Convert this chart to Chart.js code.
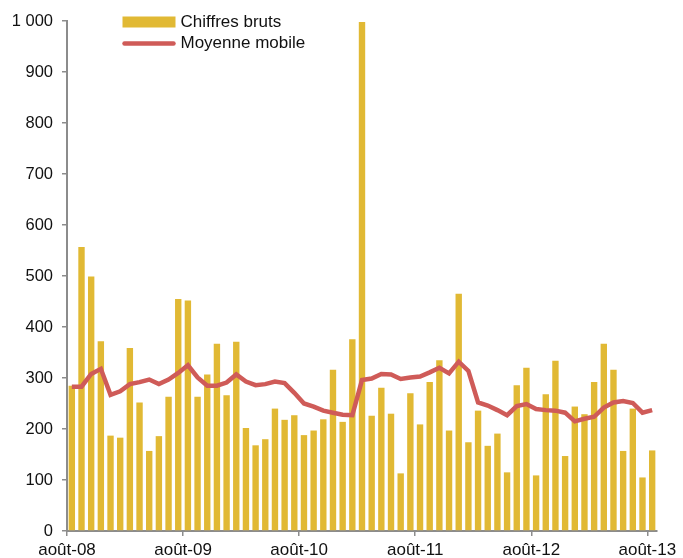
<!DOCTYPE html>
<html>
<head>
<meta charset="utf-8">
<script src="https://cdn.jsdelivr.net/npm/chart.js@4"></script>
<style>
  html, body { margin: 0; padding: 0; background: #fff; }
  #wrap { width: 683px; height: 558px; position: relative; }
</style>
</head>
<body>
<div id="wrap"><canvas id="chart"></canvas></div>
<script>
// Chiffres mensuels, août 2008 -> août 2013 (61 mois)
const chiffresBruts = [
  285, 557, 499, 372, 187, 183, 359, 252, 157, 186, 263, 455,
  452, 263, 307, 367, 266, 371, 202, 168, 180, 240, 218, 227,
  188, 197, 219, 316, 214, 376, 998, 226, 281, 230, 113, 270,
  209, 292, 335, 197, 465, 174, 236, 167, 191, 115, 286, 320,
  109, 268, 334, 147, 244, 229, 292, 367, 316, 157, 240, 105,
  158
];

const moyenneMobile = [
  283, 283, 308, 318, 267, 274, 288, 292, 297, 288, 297, 310,
  325, 301, 285, 285, 291, 307, 293, 286, 288, 293, 290, 271,
  250, 244, 236, 232, 228, 227, 296, 299, 308, 307, 298, 301,
  303, 311, 320, 309, 332, 314, 252, 246, 237, 227, 245, 249,
  239, 237, 236, 232, 215, 220, 224, 242, 252, 255, 251, 232,
  237
];

// Etiquettes de l'axe X (une par an, placées au début du mois)
const xTickLabels = ['août-08', 'août-09', 'août-10', 'août-11', 'août-12', 'août-13'];
const xTickPositions = [0, 12, 24, 36, 48, 60];

const COLORS = {
  bar: '#e1b934',
  line: '#cf5b58',
  axis: '#8c8c8c',
  text: '#111111'
};
const FONT = 'Liberation Sans, Arial, sans-serif';

// Légende dessinée dans la zone du graphique (en haut à gauche)
const insideLegend = {
  id: 'insideLegend',
  afterDraw(chart) {
    const ctx = chart.ctx;
    const x0 = 122.5, w = 53;
    ctx.save();
    ctx.font = '17px ' + FONT;
    ctx.textBaseline = 'middle';

    ctx.fillStyle = COLORS.bar;
    ctx.fillRect(x0, 16.5, w, 11);
    ctx.fillStyle = COLORS.text;
    ctx.fillText(chart.data.datasets[0].label, x0 + w + 5, 22);

    ctx.strokeStyle = COLORS.line;
    ctx.lineWidth = 4.5;
    ctx.lineCap = 'round';
    ctx.beginPath();
    ctx.moveTo(x0 + 2, 43.5);
    ctx.lineTo(x0 + w - 2, 43.5);
    ctx.stroke();
    ctx.fillText(chart.data.datasets[1].label, x0 + w + 5, 43.5);
    ctx.restore();
  }
};

const ctx = document.getElementById('chart').getContext('2d');
new Chart(ctx, {
  data: {
    datasets: [
      {
        type: 'bar',
        label: 'Chiffres bruts',
        data: chiffresBruts.map((v, i) => ({ x: i + 0.5, y: v })),
        backgroundColor: COLORS.bar,
        barPercentage: 0.66,
        categoryPercentage: 1,
        order: 2
      },
      {
        type: 'line',
        label: 'Moyenne mobile',
        data: moyenneMobile.map((v, i) => ({ x: i + 0.5, y: v })),
        borderColor: COLORS.line,
        borderWidth: 4.5,
        pointRadius: 0,
        tension: 0,
        fill: false,
        order: 1
      }
    ]
  },
  options: {
    responsive: true,
    maintainAspectRatio: false,
    animation: false,
    layout: { padding: { top: 21, right: 26, left: 0, bottom: 0 } },
    scales: {
      x: {
        type: 'linear',
        min: 0,
        max: 61,
        offset: false,
        afterBuildTicks: (scale) => {
          scale.ticks = xTickPositions.map(v => ({ value: v }));
        },
        afterFit: (scale) => { scale.height = 27; },
        border: { color: COLORS.axis, width: 2 },
        grid: { offset: false, drawOnChartArea: false, drawTicks: true, tickLength: 5, color: COLORS.axis, lineWidth: 1.5 },
        ticks: {
          color: COLORS.text,
          font: { family: FONT, size: 17 },
          padding: 4,
          maxRotation: 0,
          autoSkip: false,
          callback: (value) => xTickLabels[xTickPositions.indexOf(value)]
        }
      },
      y: {
        min: 0,
        max: 1000,
        afterFit: (scale) => { scale.width = 67; },
        border: { color: COLORS.axis, width: 2 },
        grid: { drawOnChartArea: false, drawTicks: true, tickLength: 5, color: COLORS.axis, lineWidth: 1.5 },
        ticks: {
          stepSize: 100,
          color: COLORS.text,
          font: { family: FONT, size: 16.5 },
          padding: 9,
          callback: (value) => value >= 1000 ? '1 000' : String(value)
        }
      }
    },
    plugins: {
      legend: { display: false },
      tooltip: { enabled: false }
    }
  },
  plugins: [insideLegend]
});
</script>
</body>
</html>
